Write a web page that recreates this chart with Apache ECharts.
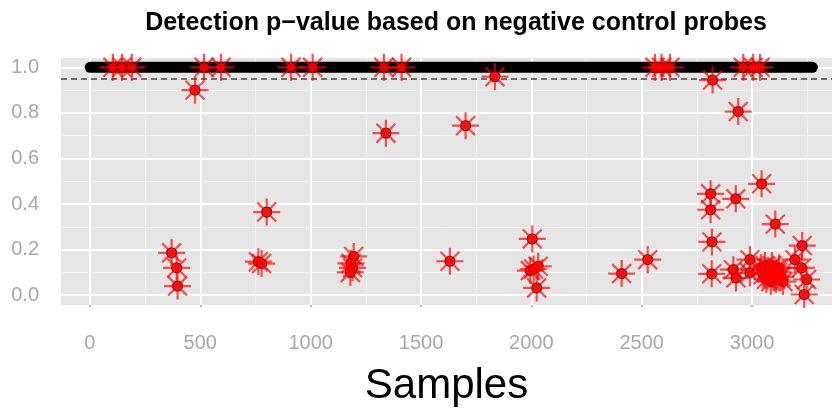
<!DOCTYPE html>
<html>
<head>
<meta charset="utf-8">
<script src="https://cdn.jsdelivr.net/npm/echarts@6/dist/echarts.min.js"></script>
<style>
  html, body { margin: 0; padding: 0; background: #fff; }
  #main { width: 832px; height: 414px; }
</style>
</head>
<body>
<div id="main"></div>
<script>
// samples whose p-value sits at 1 (black band), first and last sample index
var bandStart = 1;
var bandEnd = 3273;

// flagged samples (red stars) : sample index and detection p-value
var flaggedSample = [
  104, 145, 190, 517, 594, 911, 1009, 1332, 1412, 2560, 2590, 2628, 2960, 3005, 3036,
  476, 370, 393, 397, 801, 763, 778,
  1341, 1702, 1835, 1195, 1183, 1190, 1180, 1631,
  2004, 1995, 2010, 2031, 2024,
  2409, 2527, 2821, 2937, 3043, 2812, 2926, 2812, 3105, 2818, 3227, 3194, 2990,
  2817, 2915, 2927, 2990, 3224, 3247, 3236,
  3040, 3050, 3058, 3065, 3072, 3080, 3085, 3090, 3096, 3102, 3108, 3115, 3122, 3130, 3140
];
var flaggedPval = [
  1, 1, 1, 1, 1, 1, 1, 1, 1, 1, 1, 1, 1, 1, 1,
  0.90, 0.186, 0.12, 0.04, 0.365, 0.147, 0.139,
  0.711, 0.744, 0.959, 0.17, 0.14, 0.12, 0.10, 0.149,
  0.247, 0.108, 0.115, 0.127, 0.032,
  0.095, 0.156, 0.944, 0.806, 0.489, 0.445, 0.423, 0.375, 0.312, 0.234, 0.218, 0.156, 0.156,
  0.094, 0.112, 0.076, 0.098, 0.12, 0.069, 0.003,
  0.12, 0.09, 0.13, 0.07, 0.11, 0.10, 0.06, 0.13, 0.08, 0.11, 0.07, 0.10, 0.12, 0.08, 0.06
];

var cutoff = 0.95;

var yTicks = [0, 0.2, 0.4, 0.6, 0.8, 1.0];
var yMinor = [0.1, 0.3, 0.5, 0.7, 0.9];
var xTicks = [0, 500, 1000, 1500, 2000, 2500, 3000];
var xMinor = [250, 750, 1250, 1750, 2250, 2750, 3250];

var myChart = echarts.init(document.getElementById('main'));

var points = flaggedSample.map(function (s, i) { return [s, flaggedPval[i]]; });

var starPath = 'path://M0,-10L0,10M-10,0L10,0M-7,-7L7,7M-7,7L7,-7';

var gridLines = [];
yMinor.forEach(function (v) {
  gridLines.push({ yAxis: v, lineStyle: { color: '#F2F2F2', width: 1, type: 'solid' } });
});
xMinor.forEach(function (v) {
  gridLines.push({ xAxis: v, lineStyle: { color: '#F2F2F2', width: 1, type: 'solid' } });
});
yTicks.forEach(function (v) {
  gridLines.push({ yAxis: v, lineStyle: { color: '#FFFFFF', width: 2, type: 'solid' } });
});
xTicks.forEach(function (v) {
  gridLines.push({ xAxis: v, lineStyle: { color: '#FFFFFF', width: 2, type: 'solid' } });
});

var labelText = { color: '#A8A8A8', fontSize: 20, fontFamily: 'Liberation Sans, Arial, sans-serif' };

option = {
  animation: false,
  title: {
    text: 'Detection p\u2212value based on negative control probes',
    left: 451,
    textAlign: 'center',
    top: 6,
    textStyle: { fontSize: 25, fontWeight: 'bold', color: '#000', fontFamily: 'Liberation Sans, Arial, sans-serif' }
  },
  grid: {
    left: 61, right: 0, top: 58, bottom: 109,
    show: true, backgroundColor: '#E5E5E5', borderWidth: 0
  },
  xAxis: {
    type: 'value',
    min: -131, max: 3362,
    name: 'Samples',
    nameLocation: 'middle',
    nameGap: 60,
    nameTextStyle: { fontSize: 42, color: '#000', fontFamily: 'Liberation Sans, Arial, sans-serif' },
    axisLine: { show: false },
    splitLine: { show: false },
    axisTick: { show: true, inside: false, length: 12, customValues: xTicks, lineStyle: { color: '#A8A8A8', width: 1.5 } },
    axisLabel: Object.assign({ customValues: xTicks, margin: 28, formatter: function (v) { return String(v); } }, labelText)
  },
  yAxis: {
    type: 'value',
    min: -0.043, max: 1.041,
    axisLine: { show: false },
    splitLine: { show: false },
    axisTick: { show: true, inside: false, length: 13, customValues: yTicks, lineStyle: { color: '#A8A8A8', width: 1.5 } },
    axisLabel: Object.assign({ customValues: yTicks, margin: 22, formatter: function (v) { return v.toFixed(1); } }, labelText)
  },
  series: [
    {
      // panel grid lines
      type: 'line',
      data: [],
      silent: true,
      z: 1,
      markLine: {
        silent: true,
        z: 1,
        symbol: 'none',
        label: { show: false },
        data: gridLines
      }
    },
    {
      name: 'pass',
      type: 'line',
      data: [[bandStart, 1], [bandEnd, 1]],
      symbol: 'none',
      z: 2,
      lineStyle: { color: '#000', width: 11, cap: 'round' }
    },
    {
      type: 'line',
      data: [],
      z: 3,
      markLine: {
        silent: true,
        z: 3,
        symbol: 'none',
        label: { show: false },
        data: [{ yAxis: cutoff }],
        lineStyle: { color: '#444', width: 1.6, type: [6, 4] }
      }
    },
    {
      name: 'flagged',
      type: 'scatter',
      data: points,
      clip: false,
      z: 4,
      symbol: 'circle',
      symbolSize: 10,
      itemStyle: { color: '#EE0000', borderColor: '#220000', borderWidth: 1.2 }
    },
    {
      name: 'flagged star',
      type: 'scatter',
      data: points,
      clip: false,
      z: 5,
      symbol: starPath,
      symbolSize: 27,
      itemStyle: { color: 'rgba(0,0,0,0)', borderColor: 'rgba(255,0,0,0.85)', borderWidth: 2.2 }
    }
  ]
};

myChart.setOption(option);
</script>
</body>
</html>
